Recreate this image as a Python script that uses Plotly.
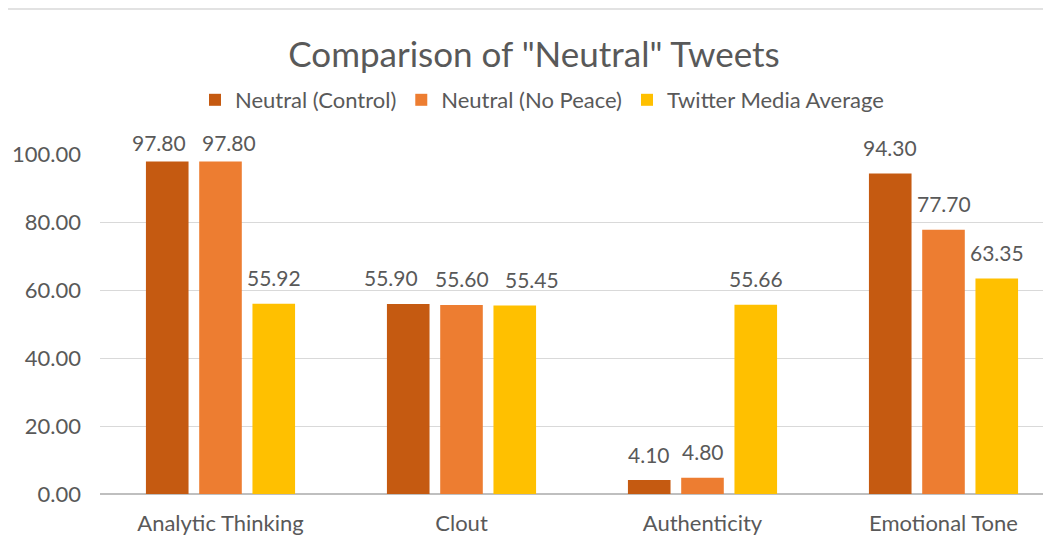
import plotly.graph_objects as go

categories = ["Analytic Thinking", "Clout", "Authenticity", "Emotional Tone"]
control = [97.80, 55.90, 4.10, 94.30]
no_peace = [97.80, 55.60, 4.80, 77.70]
twitter_avg = [55.92, 55.45, 55.66, 63.35]
series_names = ["Neutral (Control)", "Neutral (No Peace)", "Twitter Media Average"]
colors = ["#C55A11", "#ED7D31", "#FFC000"]
y_ticks = [0, 20, 40, 60, 80, 100]

FONT = "Lato, Calibri, Carlito, sans-serif"
TXT = "#595959"
OFF = 8  # page body offset
LABEL_SIZE = 21

series = [control, no_peace, twitter_avg]

W, H = 1051, 539
L = 100 - OFF
T = 154 - OFF
B = H - (494 - OFF)
R = 0
pw = W - L - R
ph = H - T - B
CAT_PX = 241.0
BARGAP = 0.337
Y_MAX = 100.0

fig = go.Figure()
for name, vals, col in zip(series_names, series, colors):
    fig.add_trace(go.Bar(
        x=categories, y=vals, name=name, marker=dict(color=col, line=dict(width=0)),
    ))


def text_w(s):
    digits = sum(ch.isdigit() for ch in s)
    return LABEL_SIZE * (0.56 * digits + 0.25)


# data labels: placed above each bar, spread apart (like Excel) when they collide
slot = CAT_PX * (1 - BARGAP) / len(series)
min_gap = 18
px_per_unit = ph / Y_MAX
for ci, cat in enumerate(categories):
    vals = [s[ci] for s in series]
    texts = [f"{v:.2f}" for v in vals]
    widths = [text_w(t) for t in texts]
    base = [(k - (len(series) - 1) / 2) * slot for k in range(len(series))]
    pos = list(base)
    groups, cur = [], [0]
    for k in range(1, len(vals)):
        p = cur[-1]
        same_row = abs(vals[k] - vals[p]) * px_per_unit < LABEL_SIZE
        collide = base[k] - base[p] < (widths[k] + widths[p]) / 2 + 4
        if same_row and collide:
            cur.append(k)
        else:
            groups.append(cur)
            cur = [k]
    groups.append(cur)
    for g in groups:
        if len(g) > 1:
            mean = sum(base[k] for k in g) / len(g)
            step = sum(widths[k] for k in g) / len(g) + min_gap
            for j, k in enumerate(g):
                pos[k] = mean + (j - (len(g) - 1) / 2) * step
    for k, v in enumerate(vals):
        top_px = (Y_MAX - v) * px_per_unit
        ys = min(11.5, top_px - 3.5)
        fig.add_annotation(x=cat, y=v, xref="x", yref="y", text=texts[k],
                           showarrow=False, xshift=pos[k], yshift=ys,
                           yanchor="bottom", xanchor="center",
                           font=dict(family=FONT, size=LABEL_SIZE, color=TXT))

fig.update_layout(
    width=W, height=H,
    margin=dict(l=L, r=R, t=T, b=B),
    paper_bgcolor="white", plot_bgcolor="white",
    barmode="group", bargap=BARGAP, bargroupgap=0.2,
    font=dict(family=FONT, color=TXT),
    title=dict(text='Comparison of "Neutral" Tweets', x=(534 - OFF - L) / pw, xref="paper",
               xanchor="center", y=1 - (55 - OFF) / H, yanchor="middle",
               font=dict(family=FONT, size=35, color=TXT)),
    legend=dict(orientation="h", x=(542 - OFF - L) / pw, xanchor="center",
                y=(T + ph - (100 - OFF)) / ph, yanchor="middle",
                font=dict(family=FONT, size=22, color=TXT), itemwidth=30,
                traceorder="normal"),
    xaxis=dict(range=[-0.5, -0.5 + pw / CAT_PX], showgrid=False, showline=False,
               ticks="", tickfont=dict(family=FONT, size=22, color=TXT),
               ticklabelstandoff=14),
    yaxis=dict(range=[0, Y_MAX], tickvals=y_ticks, ticktext=[f"{v:.2f}" for v in y_ticks],
               showgrid=True, gridcolor="#D9D9D9", gridwidth=1.3, zeroline=True,
               zerolinecolor="#BFBFBF", zerolinewidth=1.5, showline=False,
               tickfont=dict(family=FONT, size=22, color=TXT), ticklabelstandoff=18),
    showlegend=True,
)

fig.add_shape(type="rect", xref="paper", yref="paper",
              x0=(3 - OFF - L) / pw, x1=(W + 20 - L) / pw,
              y0=-0.5, y1=(T + ph - (9 - OFF)) / ph,
              line=dict(color="#D9D9D9", width=1.5), fillcolor="rgba(0,0,0,0)", layer="below")

fig.write_html("out.html")
